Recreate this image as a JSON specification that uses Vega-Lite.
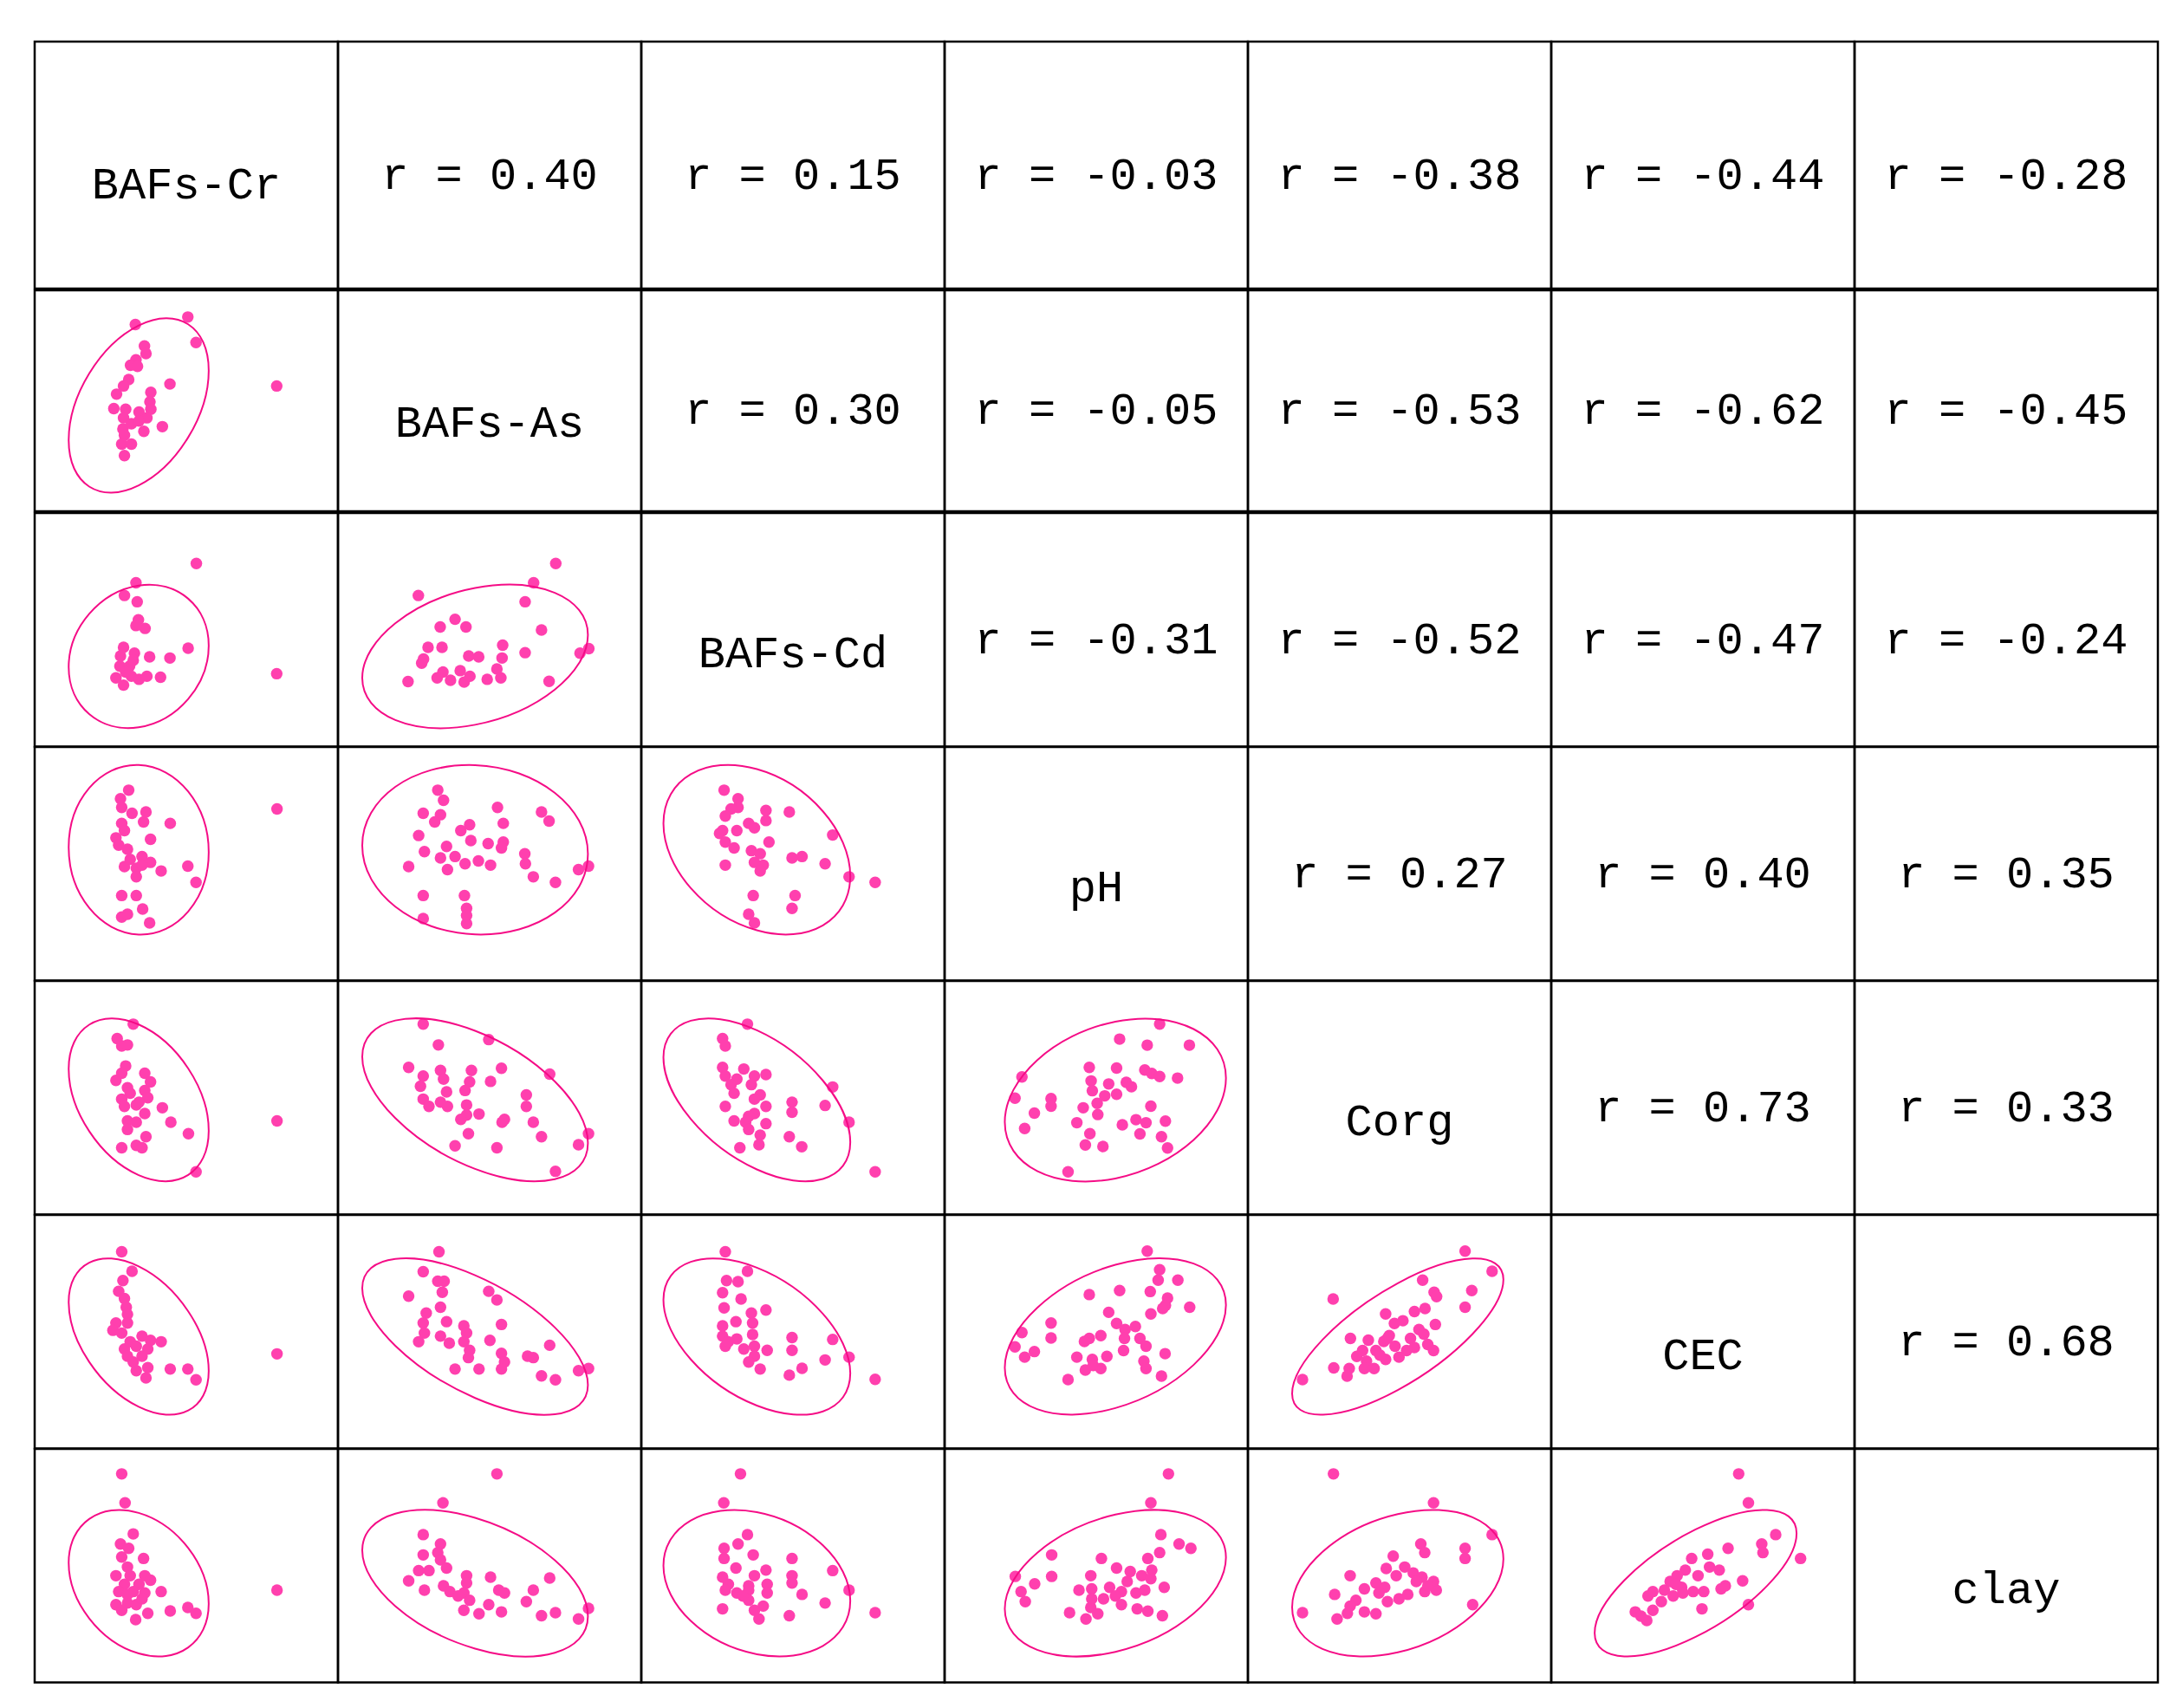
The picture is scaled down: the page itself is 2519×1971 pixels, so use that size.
{
"$schema": "https://vega.github.io/schema/vega-lite/v6.json",
"padding": {"left": 38, "top": 46, "right": 0, "bottom": 0},
"background": "white",
"spacing": -5,
"config": {"view": {"stroke": "black", "strokeWidth": 2.5}, "concat": {"spacing": 0}, "facet": {"spacing": 0}},
"resolve": {"scale": {"shape": "independent"}},
"datasets": {"all": [
{"r":"Cr","c":"Cr","k":"d","label":"BAFs-Cr"},
{"r":"As","c":"As","k":"d","label":"BAFs-As"},
{"r":"Cd","c":"Cd","k":"d","label":"BAFs-Cd"},
{"r":"pH","c":"pH","k":"d","label":"pH"},
{"r":"Corg","c":"Corg","k":"d","label":"Corg"},
{"r":"CEC","c":"CEC","k":"d","label":"CEC"},
{"r":"clay","c":"clay","k":"d","label":"clay"},
{"r":"Cr","c":"As","k":"t","label":"r = 0.40"},
{"r":"Cr","c":"Cd","k":"t","label":"r = 0.15"},
{"r":"Cr","c":"pH","k":"t","label":"r = -0.03"},
{"r":"Cr","c":"Corg","k":"t","label":"r = -0.38"},
{"r":"Cr","c":"CEC","k":"t","label":"r = -0.44"},
{"r":"Cr","c":"clay","k":"t","label":"r = -0.28"},
{"r":"As","c":"Cd","k":"t","label":"r = 0.30"},
{"r":"As","c":"pH","k":"t","label":"r = -0.05"},
{"r":"As","c":"Corg","k":"t","label":"r = -0.53"},
{"r":"As","c":"CEC","k":"t","label":"r = -0.62"},
{"r":"As","c":"clay","k":"t","label":"r = -0.45"},
{"r":"Cd","c":"pH","k":"t","label":"r = -0.31"},
{"r":"Cd","c":"Corg","k":"t","label":"r = -0.52"},
{"r":"Cd","c":"CEC","k":"t","label":"r = -0.47"},
{"r":"Cd","c":"clay","k":"t","label":"r = -0.24"},
{"r":"pH","c":"Corg","k":"t","label":"r = 0.27"},
{"r":"pH","c":"CEC","k":"t","label":"r = 0.40"},
{"r":"pH","c":"clay","k":"t","label":"r = 0.35"},
{"r":"Corg","c":"CEC","k":"t","label":"r = 0.73"},
{"r":"Corg","c":"clay","k":"t","label":"r = 0.33"},
{"r":"CEC","c":"clay","k":"t","label":"r = 0.68"},
{"r":"As","c":"Cr","k":"e","id":"As-Cr","x":34.3,"y":47.9},
{"r":"Cd","c":"Cr","k":"e","id":"Cd-Cr","x":34.3,"y":38.6},
{"r":"Cd","c":"As","k":"e","id":"Cd-As","x":45.2,"y":38.6},
{"r":"pH","c":"Cr","k":"e","id":"pH-Cr","x":34.3,"y":56.0},
{"r":"pH","c":"As","k":"e","id":"pH-As","x":45.2,"y":56.0},
{"r":"pH","c":"Cd","k":"e","id":"pH-Cd","x":38.1,"y":56.0},
{"r":"Corg","c":"Cr","k":"e","id":"Corg-Cr","x":34.3,"y":49.1},
{"r":"Corg","c":"As","k":"e","id":"Corg-As","x":45.2,"y":49.1},
{"r":"Corg","c":"Cd","k":"e","id":"Corg-Cd","x":38.1,"y":49.1},
{"r":"Corg","c":"pH","k":"e","id":"Corg-pH","x":56.3,"y":49.0},
{"r":"CEC","c":"Cr","k":"e","id":"CEC-Cr","x":34.3,"y":47.9},
{"r":"CEC","c":"As","k":"e","id":"CEC-As","x":45.2,"y":47.9},
{"r":"CEC","c":"Cd","k":"e","id":"CEC-Cd","x":38.1,"y":47.9},
{"r":"CEC","c":"pH","k":"e","id":"CEC-pH","x":56.3,"y":48.0},
{"r":"CEC","c":"Corg","k":"e","id":"CEC-Corg","x":49.4,"y":47.9},
{"r":"clay","c":"Cr","k":"e","id":"clay-Cr","x":34.3,"y":42.5},
{"r":"clay","c":"As","k":"e","id":"clay-As","x":45.2,"y":42.5},
{"r":"clay","c":"Cd","k":"e","id":"clay-Cd","x":38.1,"y":42.5},
{"r":"clay","c":"pH","k":"e","id":"clay-pH","x":56.3,"y":42.5},
{"r":"clay","c":"Corg","k":"e","id":"clay-Corg","x":49.4,"y":42.5},
{"r":"clay","c":"CEC","k":"e","id":"clay-CEC","x":47.6,"y":42.5},
{"r":"As","c":"Cr","k":"p","x":33.2,"y":84.5},{"r":"As","c":"Cr","k":"p","x":50.5,"y":87.9},{"r":"As","c":"Cr","k":"p","x":53.2,"y":76.4},{"r":"As","c":"Cr","k":"p","x":36.2,"y":74.8},{"r":"As","c":"Cr","k":"p","x":36.7,"y":71.4},{"r":"As","c":"Cr","k":"p","x":33.4,"y":68.5},{"r":"As","c":"Cr","k":"p","x":31.6,"y":66.1},{"r":"As","c":"Cr","k":"p","x":33.9,"y":65.6},{"r":"As","c":"Cr","k":"p","x":31.0,"y":59.6},{"r":"As","c":"Cr","k":"p","x":29.3,"y":56.7},{"r":"As","c":"Cr","k":"p","x":27.0,"y":53.0},{"r":"As","c":"Cr","k":"p","x":44.6,"y":57.6},{"r":"As","c":"Cr","k":"p","x":38.3,"y":53.8},{"r":"As","c":"Cr","k":"p","x":38.0,"y":49.5},{"r":"As","c":"Cr","k":"p","x":26.1,"y":46.5},{"r":"As","c":"Cr","k":"p","x":30.0,"y":46.2},{"r":"As","c":"Cr","k":"p","x":29.3,"y":42.3},{"r":"As","c":"Cr","k":"p","x":34.4,"y":44.9},{"r":"As","c":"Cr","k":"p","x":38.3,"y":46.2},{"r":"As","c":"Cr","k":"p","x":37.0,"y":42.3},{"r":"As","c":"Cr","k":"p","x":42.1,"y":38.3},{"r":"As","c":"Cr","k":"p","x":36.0,"y":36.2},{"r":"As","c":"Cr","k":"p","x":29.1,"y":37.3},{"r":"As","c":"Cr","k":"p","x":29.6,"y":34.4},{"r":"As","c":"Cr","k":"p","x":28.7,"y":30.4},{"r":"As","c":"Cr","k":"p","x":31.9,"y":30.4},{"r":"As","c":"Cr","k":"p","x":29.6,"y":25.2},{"r":"As","c":"Cr","k":"p","x":79.8,"y":56.7},{"r":"As","c":"Cr","k":"p","x":31.9,"y":39.6},{"r":"As","c":"Cr","k":"p","x":34.4,"y":40.9},
{"r":"Cd","c":"Cr","k":"p","x":53.3,"y":78.4},{"r":"Cd","c":"Cr","k":"p","x":33.4,"y":70.1},{"r":"Cd","c":"Cr","k":"p","x":29.6,"y":64.7},{"r":"Cd","c":"Cr","k":"p","x":33.8,"y":62.0},{"r":"Cd","c":"Cr","k":"p","x":34.2,"y":54.3},{"r":"Cd","c":"Cr","k":"p","x":36.4,"y":50.6},{"r":"Cd","c":"Cr","k":"p","x":33.4,"y":51.8},{"r":"Cd","c":"Cr","k":"p","x":50.6,"y":42.1},{"r":"Cd","c":"Cr","k":"p","x":44.6,"y":37.9},{"r":"Cd","c":"Cr","k":"p","x":37.9,"y":38.4},{"r":"Cd","c":"Cr","k":"p","x":29.3,"y":42.5},{"r":"Cd","c":"Cr","k":"p","x":28.3,"y":38.8},{"r":"Cd","c":"Cr","k":"p","x":32.9,"y":40.0},{"r":"Cd","c":"Cr","k":"p","x":28.1,"y":34.4},{"r":"Cd","c":"Cr","k":"p","x":31.3,"y":34.4},{"r":"Cd","c":"Cr","k":"p","x":26.8,"y":29.4},{"r":"Cd","c":"Cr","k":"p","x":29.3,"y":26.3},{"r":"Cd","c":"Cr","k":"p","x":31.9,"y":30.1},{"r":"Cd","c":"Cr","k":"p","x":34.4,"y":28.8},{"r":"Cd","c":"Cr","k":"p","x":37.0,"y":30.1},{"r":"Cd","c":"Cr","k":"p","x":41.5,"y":29.7},{"r":"Cd","c":"Cr","k":"p","x":79.8,"y":31.2},{"r":"Cd","c":"Cr","k":"p","x":30.0,"y":31.9},{"r":"Cd","c":"Cr","k":"p","x":32.5,"y":36.9},
{"r":"Cd","c":"As","k":"p","x":71.8,"y":78.4},{"r":"Cd","c":"As","k":"p","x":64.5,"y":70.1},{"r":"Cd","c":"As","k":"p","x":26.5,"y":64.7},{"r":"Cd","c":"As","k":"p","x":61.7,"y":62.0},{"r":"Cd","c":"As","k":"p","x":38.6,"y":54.5},{"r":"Cd","c":"As","k":"p","x":42.2,"y":51.2},{"r":"Cd","c":"As","k":"p","x":33.7,"y":51.2},{"r":"Cd","c":"As","k":"p","x":67.1,"y":49.9},{"r":"Cd","c":"As","k":"p","x":29.7,"y":42.5},{"r":"Cd","c":"As","k":"p","x":34.3,"y":42.5},{"r":"Cd","c":"As","k":"p","x":54.3,"y":43.4},{"r":"Cd","c":"As","k":"p","x":28.2,"y":37.5},{"r":"Cd","c":"As","k":"p","x":43.1,"y":38.8},{"r":"Cd","c":"As","k":"p","x":46.4,"y":38.4},{"r":"Cd","c":"As","k":"p","x":54.1,"y":37.9},{"r":"Cd","c":"As","k":"p","x":61.7,"y":40.2},{"r":"Cd","c":"As","k":"p","x":79.8,"y":40.0},{"r":"Cd","c":"As","k":"p","x":82.7,"y":41.9},{"r":"Cd","c":"As","k":"p","x":23.1,"y":27.8},{"r":"Cd","c":"As","k":"p","x":34.6,"y":31.9},{"r":"Cd","c":"As","k":"p","x":32.7,"y":29.4},{"r":"Cd","c":"As","k":"p","x":37.1,"y":28.4},{"r":"Cd","c":"As","k":"p","x":40.3,"y":32.5},{"r":"Cd","c":"As","k":"p","x":41.6,"y":27.6},{"r":"Cd","c":"As","k":"p","x":43.5,"y":30.1},{"r":"Cd","c":"As","k":"p","x":49.2,"y":28.8},{"r":"Cd","c":"As","k":"p","x":52.4,"y":33.2},{"r":"Cd","c":"As","k":"p","x":53.7,"y":29.4},{"r":"Cd","c":"As","k":"p","x":69.6,"y":27.9},{"r":"Cd","c":"As","k":"p","x":27.6,"y":35.7},
{"r":"pH","c":"Cr","k":"p","x":31.0,"y":81.5},{"r":"pH","c":"Cr","k":"p","x":28.3,"y":77.8},{"r":"pH","c":"Cr","k":"p","x":28.7,"y":74.1},{"r":"pH","c":"Cr","k":"p","x":32.1,"y":71.6},{"r":"pH","c":"Cr","k":"p","x":36.7,"y":72.2},{"r":"pH","c":"Cr","k":"p","x":35.9,"y":67.9},{"r":"pH","c":"Cr","k":"p","x":28.7,"y":67.3},{"r":"pH","c":"Cr","k":"p","x":29.6,"y":64.2},{"r":"pH","c":"Cr","k":"p","x":44.7,"y":67.3},{"r":"pH","c":"Cr","k":"p","x":26.8,"y":61.1},{"r":"pH","c":"Cr","k":"p","x":38.2,"y":60.5},{"r":"pH","c":"Cr","k":"p","x":27.7,"y":58.0},{"r":"pH","c":"Cr","k":"p","x":30.6,"y":56.2},{"r":"pH","c":"Cr","k":"p","x":35.4,"y":53.1},{"r":"pH","c":"Cr","k":"p","x":38.2,"y":50.6},{"r":"pH","c":"Cr","k":"p","x":29.6,"y":48.8},{"r":"pH","c":"Cr","k":"p","x":33.5,"y":48.1},{"r":"pH","c":"Cr","k":"p","x":41.7,"y":46.9},{"r":"pH","c":"Cr","k":"p","x":50.5,"y":49.0},{"r":"pH","c":"Cr","k":"p","x":33.5,"y":44.4},{"r":"pH","c":"Cr","k":"p","x":53.2,"y":42.0},{"r":"pH","c":"Cr","k":"p","x":28.7,"y":36.4},{"r":"pH","c":"Cr","k":"p","x":33.5,"y":36.4},{"r":"pH","c":"Cr","k":"p","x":35.6,"y":30.6},{"r":"pH","c":"Cr","k":"p","x":28.7,"y":27.2},{"r":"pH","c":"Cr","k":"p","x":30.6,"y":28.4},{"r":"pH","c":"Cr","k":"p","x":37.9,"y":24.7},{"r":"pH","c":"Cr","k":"p","x":79.9,"y":73.5},{"r":"pH","c":"Cr","k":"p","x":35.4,"y":49.4},{"r":"pH","c":"Cr","k":"p","x":31.5,"y":51.9},
{"r":"pH","c":"As","k":"p","x":32.9,"y":81.5},{"r":"pH","c":"As","k":"p","x":34.8,"y":77.2},{"r":"pH","c":"As","k":"p","x":28.1,"y":71.6},{"r":"pH","c":"As","k":"p","x":33.8,"y":71.0},{"r":"pH","c":"As","k":"p","x":31.9,"y":67.9},{"r":"pH","c":"As","k":"p","x":52.6,"y":74.1},{"r":"pH","c":"As","k":"p","x":67.1,"y":72.2},{"r":"pH","c":"As","k":"p","x":69.6,"y":68.3},{"r":"pH","c":"As","k":"p","x":54.5,"y":67.3},{"r":"pH","c":"As","k":"p","x":43.4,"y":66.7},{"r":"pH","c":"As","k":"p","x":40.5,"y":64.2},{"r":"pH","c":"As","k":"p","x":43.8,"y":59.9},{"r":"pH","c":"As","k":"p","x":26.6,"y":62.1},{"r":"pH","c":"As","k":"p","x":49.5,"y":58.6},{"r":"pH","c":"As","k":"p","x":54.5,"y":59.3},{"r":"pH","c":"As","k":"p","x":53.9,"y":56.8},{"r":"pH","c":"As","k":"p","x":35.8,"y":57.4},{"r":"pH","c":"As","k":"p","x":28.5,"y":55.2},{"r":"pH","c":"As","k":"p","x":33.8,"y":52.5},{"r":"pH","c":"As","k":"p","x":38.6,"y":53.1},{"r":"pH","c":"As","k":"p","x":61.6,"y":54.3},{"r":"pH","c":"As","k":"p","x":23.3,"y":48.8},{"r":"pH","c":"As","k":"p","x":41.9,"y":50.0},{"r":"pH","c":"As","k":"p","x":46.3,"y":51.2},{"r":"pH","c":"As","k":"p","x":50.3,"y":49.4},{"r":"pH","c":"As","k":"p","x":61.8,"y":50.0},{"r":"pH","c":"As","k":"p","x":36.1,"y":47.5},{"r":"pH","c":"As","k":"p","x":79.3,"y":47.5},{"r":"pH","c":"As","k":"p","x":82.6,"y":49.0},{"r":"pH","c":"As","k":"p","x":64.4,"y":44.4},{"r":"pH","c":"As","k":"p","x":71.7,"y":42.0},{"r":"pH","c":"As","k":"p","x":28.1,"y":36.4},{"r":"pH","c":"As","k":"p","x":41.7,"y":36.4},{"r":"pH","c":"As","k":"p","x":42.4,"y":30.9},{"r":"pH","c":"As","k":"p","x":28.1,"y":26.5},{"r":"pH","c":"As","k":"p","x":42.4,"y":24.4},{"r":"pH","c":"As","k":"p","x":42.4,"y":27.8},
{"r":"pH","c":"Cd","k":"p","x":27.3,"y":81.5},{"r":"pH","c":"Cd","k":"p","x":31.9,"y":77.8},{"r":"pH","c":"Cd","k":"p","x":31.9,"y":74.1},{"r":"pH","c":"Cd","k":"p","x":29.6,"y":73.5},{"r":"pH","c":"Cd","k":"p","x":27.7,"y":70.4},{"r":"pH","c":"Cd","k":"p","x":41.1,"y":72.8},{"r":"pH","c":"Cd","k":"p","x":48.8,"y":72.2},{"r":"pH","c":"Cd","k":"p","x":41.1,"y":68.5},{"r":"pH","c":"Cd","k":"p","x":35.4,"y":67.3},{"r":"pH","c":"Cd","k":"p","x":26.8,"y":64.2},{"r":"pH","c":"Cd","k":"p","x":31.5,"y":64.2},{"r":"pH","c":"Cd","k":"p","x":37.3,"y":65.4},{"r":"pH","c":"Cd","k":"p","x":42.1,"y":59.3},{"r":"pH","c":"Cd","k":"p","x":27.7,"y":59.3},{"r":"pH","c":"Cd","k":"p","x":30.6,"y":56.8},{"r":"pH","c":"Cd","k":"p","x":63.1,"y":62.3},{"r":"pH","c":"Cd","k":"p","x":36.3,"y":55.6},{"r":"pH","c":"Cd","k":"p","x":39.2,"y":54.3},{"r":"pH","c":"Cd","k":"p","x":49.7,"y":52.5},{"r":"pH","c":"Cd","k":"p","x":53.0,"y":53.1},{"r":"pH","c":"Cd","k":"p","x":60.6,"y":50.0},{"r":"pH","c":"Cd","k":"p","x":27.7,"y":49.4},{"r":"pH","c":"Cd","k":"p","x":37.3,"y":50.6},{"r":"pH","c":"Cd","k":"p","x":40.2,"y":49.4},{"r":"pH","c":"Cd","k":"p","x":39.2,"y":46.9},{"r":"pH","c":"Cd","k":"p","x":68.5,"y":44.4},{"r":"pH","c":"Cd","k":"p","x":77.1,"y":42.0},{"r":"pH","c":"Cd","k":"p","x":36.9,"y":36.4},{"r":"pH","c":"Cd","k":"p","x":50.7,"y":36.4},{"r":"pH","c":"Cd","k":"p","x":49.7,"y":30.9},{"r":"pH","c":"Cd","k":"p","x":35.4,"y":28.4},{"r":"pH","c":"Cd","k":"p","x":37.3,"y":24.7},{"r":"pH","c":"Cd","k":"p","x":25.8,"y":63.0},
{"r":"Corg","c":"Cr","k":"p","x":32.5,"y":81.5},{"r":"Corg","c":"Cr","k":"p","x":27.2,"y":75.3},{"r":"Corg","c":"Cr","k":"p","x":28.7,"y":72.2},{"r":"Corg","c":"Cr","k":"p","x":30.6,"y":72.6},{"r":"Corg","c":"Cr","k":"p","x":30.0,"y":63.6},{"r":"Corg","c":"Cr","k":"p","x":28.7,"y":60.5},{"r":"Corg","c":"Cr","k":"p","x":26.8,"y":57.4},{"r":"Corg","c":"Cr","k":"p","x":36.3,"y":60.5},{"r":"Corg","c":"Cr","k":"p","x":38.2,"y":56.8},{"r":"Corg","c":"Cr","k":"p","x":30.6,"y":54.3},{"r":"Corg","c":"Cr","k":"p","x":36.3,"y":53.1},{"r":"Corg","c":"Cr","k":"p","x":31.5,"y":51.9},{"r":"Corg","c":"Cr","k":"p","x":37.3,"y":50.0},{"r":"Corg","c":"Cr","k":"p","x":28.7,"y":49.4},{"r":"Corg","c":"Cr","k":"p","x":29.6,"y":46.3},{"r":"Corg","c":"Cr","k":"p","x":33.5,"y":46.9},{"r":"Corg","c":"Cr","k":"p","x":36.3,"y":43.2},{"r":"Corg","c":"Cr","k":"p","x":42.1,"y":45.7},{"r":"Corg","c":"Cr","k":"p","x":30.6,"y":40.1},{"r":"Corg","c":"Cr","k":"p","x":33.5,"y":39.5},{"r":"Corg","c":"Cr","k":"p","x":44.9,"y":39.5},{"r":"Corg","c":"Cr","k":"p","x":30.6,"y":36.4},{"r":"Corg","c":"Cr","k":"p","x":50.7,"y":34.6},{"r":"Corg","c":"Cr","k":"p","x":36.7,"y":33.3},{"r":"Corg","c":"Cr","k":"p","x":28.7,"y":28.6},{"r":"Corg","c":"Cr","k":"p","x":33.5,"y":29.6},{"r":"Corg","c":"Cr","k":"p","x":35.4,"y":28.6},{"r":"Corg","c":"Cr","k":"p","x":79.9,"y":40.1},{"r":"Corg","c":"Cr","k":"p","x":53.2,"y":18.3},{"r":"Corg","c":"Cr","k":"p","x":34.4,"y":48.1},
{"r":"Corg","c":"As","k":"p","x":28.1,"y":81.5},{"r":"Corg","c":"As","k":"p","x":49.7,"y":74.9},{"r":"Corg","c":"As","k":"p","x":33.1,"y":72.6},{"r":"Corg","c":"As","k":"p","x":23.3,"y":63.0},{"r":"Corg","c":"As","k":"p","x":33.8,"y":61.7},{"r":"Corg","c":"As","k":"p","x":53.9,"y":62.6},{"r":"Corg","c":"As","k":"p","x":44.0,"y":61.7},{"r":"Corg","c":"As","k":"p","x":69.8,"y":60.1},{"r":"Corg","c":"As","k":"p","x":28.1,"y":59.3},{"r":"Corg","c":"As","k":"p","x":34.8,"y":58.0},{"r":"Corg","c":"As","k":"p","x":43.4,"y":56.8},{"r":"Corg","c":"As","k":"p","x":50.3,"y":57.0},{"r":"Corg","c":"As","k":"p","x":27.2,"y":54.9},{"r":"Corg","c":"As","k":"p","x":41.9,"y":53.1},{"r":"Corg","c":"As","k":"p","x":35.8,"y":52.5},{"r":"Corg","c":"As","k":"p","x":28.1,"y":49.4},{"r":"Corg","c":"As","k":"p","x":30.0,"y":46.3},{"r":"Corg","c":"As","k":"p","x":36.1,"y":46.3},{"r":"Corg","c":"As","k":"p","x":42.4,"y":46.9},{"r":"Corg","c":"As","k":"p","x":62.1,"y":51.2},{"r":"Corg","c":"As","k":"p","x":62.1,"y":46.3},{"r":"Corg","c":"As","k":"p","x":42.4,"y":42.6},{"r":"Corg","c":"As","k":"p","x":46.5,"y":43.0},{"r":"Corg","c":"As","k":"p","x":40.5,"y":40.7},{"r":"Corg","c":"As","k":"p","x":54.1,"y":39.5},{"r":"Corg","c":"As","k":"p","x":54.9,"y":40.7},{"r":"Corg","c":"As","k":"p","x":64.4,"y":39.5},{"r":"Corg","c":"As","k":"p","x":43.0,"y":34.6},{"r":"Corg","c":"As","k":"p","x":67.1,"y":33.3},{"r":"Corg","c":"As","k":"p","x":38.6,"y":29.4},{"r":"Corg","c":"As","k":"p","x":52.4,"y":28.6},{"r":"Corg","c":"As","k":"p","x":79.3,"y":29.9},{"r":"Corg","c":"As","k":"p","x":82.6,"y":34.6},{"r":"Corg","c":"As","k":"p","x":71.7,"y":18.5},{"r":"Corg","c":"As","k":"p","x":33.8,"y":48.1},
{"r":"Corg","c":"Cd","k":"p","x":35.0,"y":81.5},{"r":"Corg","c":"Cd","k":"p","x":26.8,"y":75.3},{"r":"Corg","c":"Cd","k":"p","x":27.7,"y":72.2},{"r":"Corg","c":"Cd","k":"p","x":26.8,"y":63.0},{"r":"Corg","c":"Cd","k":"p","x":33.8,"y":62.3},{"r":"Corg","c":"Cd","k":"p","x":27.7,"y":59.3},{"r":"Corg","c":"Cd","k":"p","x":37.3,"y":59.3},{"r":"Corg","c":"Cd","k":"p","x":41.1,"y":59.9},{"r":"Corg","c":"Cd","k":"p","x":31.5,"y":58.0},{"r":"Corg","c":"Cd","k":"p","x":29.6,"y":55.6},{"r":"Corg","c":"Cd","k":"p","x":36.3,"y":55.6},{"r":"Corg","c":"Cd","k":"p","x":30.6,"y":51.9},{"r":"Corg","c":"Cd","k":"p","x":39.2,"y":51.2},{"r":"Corg","c":"Cd","k":"p","x":37.3,"y":49.4},{"r":"Corg","c":"Cd","k":"p","x":49.7,"y":48.1},{"r":"Corg","c":"Cd","k":"p","x":63.1,"y":54.6},{"r":"Corg","c":"Cd","k":"p","x":49.7,"y":43.8},{"r":"Corg","c":"Cd","k":"p","x":41.1,"y":46.3},{"r":"Corg","c":"Cd","k":"p","x":60.6,"y":46.7},{"r":"Corg","c":"Cd","k":"p","x":27.7,"y":46.3},{"r":"Corg","c":"Cd","k":"p","x":37.3,"y":43.2},{"r":"Corg","c":"Cd","k":"p","x":30.6,"y":40.1},{"r":"Corg","c":"Cd","k":"p","x":34.4,"y":39.5},{"r":"Corg","c":"Cd","k":"p","x":41.1,"y":38.9},{"r":"Corg","c":"Cd","k":"p","x":35.4,"y":36.4},{"r":"Corg","c":"Cd","k":"p","x":39.2,"y":34.0},{"r":"Corg","c":"Cd","k":"p","x":68.5,"y":39.5},{"r":"Corg","c":"Cd","k":"p","x":48.8,"y":33.3},{"r":"Corg","c":"Cd","k":"p","x":52.9,"y":29.0},{"r":"Corg","c":"Cd","k":"p","x":32.5,"y":28.6},{"r":"Corg","c":"Cd","k":"p","x":38.8,"y":29.9},{"r":"Corg","c":"Cd","k":"p","x":77.1,"y":18.3},{"r":"Corg","c":"Cd","k":"p","x":35.4,"y":42.0},
{"r":"Corg","c":"pH","k":"p","x":70.9,"y":81.5},{"r":"Corg","c":"pH","k":"p","x":57.7,"y":75.1},{"r":"Corg","c":"pH","k":"p","x":66.8,"y":72.5},{"r":"Corg","c":"pH","k":"p","x":80.7,"y":72.5},{"r":"Corg","c":"pH","k":"p","x":25.5,"y":58.9},{"r":"Corg","c":"pH","k":"p","x":47.7,"y":63.0},{"r":"Corg","c":"pH","k":"p","x":56.7,"y":62.7},{"r":"Corg","c":"pH","k":"p","x":66.0,"y":61.9},{"r":"Corg","c":"pH","k":"p","x":68.3,"y":60.4},{"r":"Corg","c":"pH","k":"p","x":70.9,"y":59.1},{"r":"Corg","c":"pH","k":"p","x":76.8,"y":58.4},{"r":"Corg","c":"pH","k":"p","x":48.3,"y":57.2},{"r":"Corg","c":"pH","k":"p","x":48.7,"y":53.0},{"r":"Corg","c":"pH","k":"p","x":54.1,"y":55.9},{"r":"Corg","c":"pH","k":"p","x":59.9,"y":56.6},{"r":"Corg","c":"pH","k":"p","x":61.6,"y":54.7},{"r":"Corg","c":"pH","k":"p","x":56.7,"y":51.5},{"r":"Corg","c":"pH","k":"p","x":52.8,"y":50.8},{"r":"Corg","c":"pH","k":"p","x":23.2,"y":49.8},{"r":"Corg","c":"pH","k":"p","x":35.1,"y":49.6},{"r":"Corg","c":"pH","k":"p","x":35.1,"y":46.4},{"r":"Corg","c":"pH","k":"p","x":29.6,"y":43.4},{"r":"Corg","c":"pH","k":"p","x":45.7,"y":45.7},{"r":"Corg","c":"pH","k":"p","x":50.3,"y":47.6},{"r":"Corg","c":"pH","k":"p","x":50.5,"y":42.8},{"r":"Corg","c":"pH","k":"p","x":68.0,"y":46.4},{"r":"Corg","c":"pH","k":"p","x":43.6,"y":39.3},{"r":"Corg","c":"pH","k":"p","x":58.6,"y":38.4},{"r":"Corg","c":"pH","k":"p","x":63.1,"y":40.6},{"r":"Corg","c":"pH","k":"p","x":66.4,"y":39.3},{"r":"Corg","c":"pH","k":"p","x":72.8,"y":40.0},{"r":"Corg","c":"pH","k":"p","x":26.4,"y":36.8},{"r":"Corg","c":"pH","k":"p","x":47.9,"y":34.6},{"r":"Corg","c":"pH","k":"p","x":64.4,"y":34.5},{"r":"Corg","c":"pH","k":"p","x":71.5,"y":33.3},{"r":"Corg","c":"pH","k":"p","x":73.5,"y":28.5},{"r":"Corg","c":"pH","k":"p","x":46.4,"y":29.8},{"r":"Corg","c":"pH","k":"p","x":52.2,"y":29.1},{"r":"Corg","c":"pH","k":"p","x":40.7,"y":18.3},
{"r":"CEC","c":"Cr","k":"p","x":28.7,"y":84.2},{"r":"CEC","c":"Cr","k":"p","x":32.1,"y":75.9},{"r":"CEC","c":"Cr","k":"p","x":29.1,"y":71.9},{"r":"CEC","c":"Cr","k":"p","x":27.7,"y":67.3},{"r":"CEC","c":"Cr","k":"p","x":29.6,"y":64.2},{"r":"CEC","c":"Cr","k":"p","x":30.2,"y":60.5},{"r":"CEC","c":"Cr","k":"p","x":30.6,"y":57.4},{"r":"CEC","c":"Cr","k":"p","x":26.8,"y":53.7},{"r":"CEC","c":"Cr","k":"p","x":30.6,"y":53.7},{"r":"CEC","c":"Cr","k":"p","x":25.8,"y":50.6},{"r":"CEC","c":"Cr","k":"p","x":28.7,"y":49.4},{"r":"CEC","c":"Cr","k":"p","x":35.4,"y":48.1},{"r":"CEC","c":"Cr","k":"p","x":38.2,"y":46.3},{"r":"CEC","c":"Cr","k":"p","x":41.7,"y":45.7},{"r":"CEC","c":"Cr","k":"p","x":29.6,"y":42.6},{"r":"CEC","c":"Cr","k":"p","x":33.5,"y":43.8},{"r":"CEC","c":"Cr","k":"p","x":37.3,"y":42.6},{"r":"CEC","c":"Cr","k":"p","x":30.6,"y":39.5},{"r":"CEC","c":"Cr","k":"p","x":35.4,"y":39.5},{"r":"CEC","c":"Cr","k":"p","x":33.5,"y":33.3},{"r":"CEC","c":"Cr","k":"p","x":37.3,"y":34.6},{"r":"CEC","c":"Cr","k":"p","x":36.7,"y":30.2},{"r":"CEC","c":"Cr","k":"p","x":44.7,"y":34.0},{"r":"CEC","c":"Cr","k":"p","x":50.5,"y":34.0},{"r":"CEC","c":"Cr","k":"p","x":53.2,"y":29.4},{"r":"CEC","c":"Cr","k":"p","x":79.9,"y":40.5},{"r":"CEC","c":"Cr","k":"p","x":32.5,"y":37.0},{"r":"CEC","c":"Cr","k":"p","x":31.5,"y":45.7},
{"r":"CEC","c":"As","k":"p","x":33.3,"y":84.2},{"r":"CEC","c":"As","k":"p","x":28.1,"y":75.7},{"r":"CEC","c":"As","k":"p","x":32.9,"y":71.6},{"r":"CEC","c":"As","k":"p","x":35.0,"y":71.6},{"r":"CEC","c":"As","k":"p","x":34.4,"y":66.9},{"r":"CEC","c":"As","k":"p","x":23.3,"y":65.2},{"r":"CEC","c":"As","k":"p","x":49.7,"y":67.3},{"r":"CEC","c":"As","k":"p","x":52.4,"y":63.6},{"r":"CEC","c":"As","k":"p","x":33.8,"y":60.5},{"r":"CEC","c":"As","k":"p","x":29.1,"y":58.0},{"r":"CEC","c":"As","k":"p","x":28.1,"y":53.7},{"r":"CEC","c":"As","k":"p","x":35.8,"y":54.3},{"r":"CEC","c":"As","k":"p","x":53.9,"y":53.1},{"r":"CEC","c":"As","k":"p","x":41.5,"y":52.5},{"r":"CEC","c":"As","k":"p","x":28.5,"y":49.4},{"r":"CEC","c":"As","k":"p","x":33.8,"y":48.1},{"r":"CEC","c":"As","k":"p","x":42.4,"y":49.4},{"r":"CEC","c":"As","k":"p","x":50.1,"y":46.3},{"r":"CEC","c":"As","k":"p","x":26.6,"y":45.7},{"r":"CEC","c":"As","k":"p","x":36.7,"y":45.1},{"r":"CEC","c":"As","k":"p","x":41.5,"y":45.7},{"r":"CEC","c":"As","k":"p","x":43.4,"y":42.0},{"r":"CEC","c":"As","k":"p","x":69.8,"y":44.2},{"r":"CEC","c":"As","k":"p","x":53.9,"y":40.7},{"r":"CEC","c":"As","k":"p","x":62.5,"y":39.5},{"r":"CEC","c":"As","k":"p","x":64.4,"y":38.9},{"r":"CEC","c":"As","k":"p","x":54.9,"y":37.0},{"r":"CEC","c":"As","k":"p","x":38.6,"y":34.0},{"r":"CEC","c":"As","k":"p","x":46.5,"y":34.0},{"r":"CEC","c":"As","k":"p","x":53.9,"y":34.0},{"r":"CEC","c":"As","k":"p","x":67.1,"y":31.1},{"r":"CEC","c":"As","k":"p","x":71.7,"y":29.4},{"r":"CEC","c":"As","k":"p","x":79.3,"y":33.3},{"r":"CEC","c":"As","k":"p","x":82.6,"y":34.2},{"r":"CEC","c":"As","k":"p","x":43.0,"y":38.9},
{"r":"CEC","c":"Cd","k":"p","x":27.7,"y":84.2},{"r":"CEC","c":"Cd","k":"p","x":35.0,"y":75.9},{"r":"CEC","c":"Cd","k":"p","x":28.1,"y":71.9},{"r":"CEC","c":"Cd","k":"p","x":31.9,"y":71.4},{"r":"CEC","c":"Cd","k":"p","x":26.8,"y":66.7},{"r":"CEC","c":"Cd","k":"p","x":32.9,"y":64.0},{"r":"CEC","c":"Cd","k":"p","x":27.3,"y":60.2},{"r":"CEC","c":"Cd","k":"p","x":41.1,"y":59.3},{"r":"CEC","c":"Cd","k":"p","x":36.3,"y":58.0},{"r":"CEC","c":"Cd","k":"p","x":31.2,"y":54.3},{"r":"CEC","c":"Cd","k":"p","x":26.8,"y":52.5},{"r":"CEC","c":"Cd","k":"p","x":36.7,"y":53.7},{"r":"CEC","c":"Cd","k":"p","x":26.8,"y":48.1},{"r":"CEC","c":"Cd","k":"p","x":31.5,"y":46.9},{"r":"CEC","c":"Cd","k":"p","x":49.7,"y":47.5},{"r":"CEC","c":"Cd","k":"p","x":63.1,"y":46.7},{"r":"CEC","c":"Cd","k":"p","x":27.7,"y":43.8},{"r":"CEC","c":"Cd","k":"p","x":33.8,"y":42.6},{"r":"CEC","c":"Cd","k":"p","x":37.3,"y":43.8},{"r":"CEC","c":"Cd","k":"p","x":41.5,"y":42.0},{"r":"CEC","c":"Cd","k":"p","x":49.7,"y":42.0},{"r":"CEC","c":"Cd","k":"p","x":37.3,"y":39.5},{"r":"CEC","c":"Cd","k":"p","x":35.4,"y":37.0},{"r":"CEC","c":"Cd","k":"p","x":39.2,"y":34.0},{"r":"CEC","c":"Cd","k":"p","x":60.6,"y":37.9},{"r":"CEC","c":"Cd","k":"p","x":68.5,"y":39.1},{"r":"CEC","c":"Cd","k":"p","x":53.0,"y":34.3},{"r":"CEC","c":"Cd","k":"p","x":48.8,"y":31.4},{"r":"CEC","c":"Cd","k":"p","x":77.1,"y":29.6},{"r":"CEC","c":"Cd","k":"p","x":36.7,"y":48.8},{"r":"CEC","c":"Cd","k":"p","x":28.7,"y":45.7},
{"r":"CEC","c":"pH","k":"p","x":66.8,"y":84.5},{"r":"CEC","c":"pH","k":"p","x":70.9,"y":76.5},{"r":"CEC","c":"pH","k":"p","x":70.4,"y":72.1},{"r":"CEC","c":"pH","k":"p","x":76.9,"y":72.1},{"r":"CEC","c":"pH","k":"p","x":47.7,"y":65.9},{"r":"CEC","c":"pH","k":"p","x":57.7,"y":67.6},{"r":"CEC","c":"pH","k":"p","x":67.8,"y":67.2},{"r":"CEC","c":"pH","k":"p","x":73.5,"y":64.4},{"r":"CEC","c":"pH","k":"p","x":72.8,"y":61.2},{"r":"CEC","c":"pH","k":"p","x":80.8,"y":60.5},{"r":"CEC","c":"pH","k":"p","x":71.9,"y":59.9},{"r":"CEC","c":"pH","k":"p","x":68.0,"y":57.6},{"r":"CEC","c":"pH","k":"p","x":54.1,"y":58.3},{"r":"CEC","c":"pH","k":"p","x":35.1,"y":53.7},{"r":"CEC","c":"pH","k":"p","x":25.5,"y":49.6},{"r":"CEC","c":"pH","k":"p","x":23.2,"y":43.5},{"r":"CEC","c":"pH","k":"p","x":35.1,"y":47.3},{"r":"CEC","c":"pH","k":"p","x":29.6,"y":41.5},{"r":"CEC","c":"pH","k":"p","x":26.4,"y":39.1},{"r":"CEC","c":"pH","k":"p","x":56.7,"y":53.5},{"r":"CEC","c":"pH","k":"p","x":59.5,"y":50.9},{"r":"CEC","c":"pH","k":"p","x":62.9,"y":52.2},{"r":"CEC","c":"pH","k":"p","x":51.5,"y":48.3},{"r":"CEC","c":"pH","k":"p","x":47.7,"y":47.1},{"r":"CEC","c":"pH","k":"p","x":46.1,"y":45.8},{"r":"CEC","c":"pH","k":"p","x":59.3,"y":47.1},{"r":"CEC","c":"pH","k":"p","x":64.4,"y":47.1},{"r":"CEC","c":"pH","k":"p","x":66.4,"y":43.8},{"r":"CEC","c":"pH","k":"p","x":59.0,"y":41.9},{"r":"CEC","c":"pH","k":"p","x":72.7,"y":40.6},{"r":"CEC","c":"pH","k":"p","x":43.6,"y":39.1},{"r":"CEC","c":"pH","k":"p","x":48.7,"y":38.1},{"r":"CEC","c":"pH","k":"p","x":53.5,"y":39.4},{"r":"CEC","c":"pH","k":"p","x":46.4,"y":33.6},{"r":"CEC","c":"pH","k":"p","x":51.5,"y":34.2},{"r":"CEC","c":"pH","k":"p","x":65.7,"y":37.4},{"r":"CEC","c":"pH","k":"p","x":66.4,"y":34.2},{"r":"CEC","c":"pH","k":"p","x":71.5,"y":31.0},{"r":"CEC","c":"pH","k":"p","x":40.7,"y":29.5},{"r":"CEC","c":"pH","k":"p","x":49.0,"y":35.5},
{"r":"CEC","c":"Corg","k":"p","x":71.6,"y":84.5},{"r":"CEC","c":"Corg","k":"p","x":80.5,"y":75.9},{"r":"CEC","c":"Corg","k":"p","x":57.6,"y":72.1},{"r":"CEC","c":"Corg","k":"p","x":61.4,"y":66.9},{"r":"CEC","c":"Corg","k":"p","x":62.2,"y":65.0},{"r":"CEC","c":"Corg","k":"p","x":73.8,"y":67.6},{"r":"CEC","c":"Corg","k":"p","x":71.6,"y":60.5},{"r":"CEC","c":"Corg","k":"p","x":28.1,"y":64.0},{"r":"CEC","c":"Corg","k":"p","x":58.4,"y":59.9},{"r":"CEC","c":"Corg","k":"p","x":54.9,"y":58.6},{"r":"CEC","c":"Corg","k":"p","x":45.4,"y":57.6},{"r":"CEC","c":"Corg","k":"p","x":51.1,"y":54.7},{"r":"CEC","c":"Corg","k":"p","x":48.3,"y":53.5},{"r":"CEC","c":"Corg","k":"p","x":61.8,"y":53.1},{"r":"CEC","c":"Corg","k":"p","x":56.4,"y":50.9},{"r":"CEC","c":"Corg","k":"p","x":58.0,"y":49.0},{"r":"CEC","c":"Corg","k":"p","x":46.6,"y":48.3},{"r":"CEC","c":"Corg","k":"p","x":44.8,"y":45.8},{"r":"CEC","c":"Corg","k":"p","x":39.7,"y":46.4},{"r":"CEC","c":"Corg","k":"p","x":33.8,"y":47.1},{"r":"CEC","c":"Corg","k":"p","x":53.6,"y":47.1},{"r":"CEC","c":"Corg","k":"p","x":54.9,"y":43.2},{"r":"CEC","c":"Corg","k":"p","x":59.3,"y":44.5},{"r":"CEC","c":"Corg","k":"p","x":61.2,"y":41.9},{"r":"CEC","c":"Corg","k":"p","x":48.5,"y":43.8},{"r":"CEC","c":"Corg","k":"p","x":52.3,"y":41.9},{"r":"CEC","c":"Corg","k":"p","x":42.2,"y":41.9},{"r":"CEC","c":"Corg","k":"p","x":37.8,"y":41.9},{"r":"CEC","c":"Corg","k":"p","x":35.9,"y":39.4},{"r":"CEC","c":"Corg","k":"p","x":39.1,"y":37.4},{"r":"CEC","c":"Corg","k":"p","x":45.4,"y":38.1},{"r":"CEC","c":"Corg","k":"p","x":49.8,"y":39.1},{"r":"CEC","c":"Corg","k":"p","x":28.3,"y":34.5},{"r":"CEC","c":"Corg","k":"p","x":33.4,"y":34.2},{"r":"CEC","c":"Corg","k":"p","x":38.4,"y":34.2},{"r":"CEC","c":"Corg","k":"p","x":41.6,"y":34.2},{"r":"CEC","c":"Corg","k":"p","x":32.7,"y":31.0},{"r":"CEC","c":"Corg","k":"p","x":18.0,"y":29.5},{"r":"CEC","c":"Corg","k":"p","x":46.0,"y":47.1},{"r":"CEC","c":"Corg","k":"p","x":43.5,"y":40.0},
{"r":"clay","c":"Cr","k":"p","x":28.7,"y":89.3},{"r":"clay","c":"Cr","k":"p","x":29.8,"y":76.9},{"r":"clay","c":"Cr","k":"p","x":32.5,"y":63.6},{"r":"clay","c":"Cr","k":"p","x":28.3,"y":59.3},{"r":"clay","c":"Cr","k":"p","x":31.0,"y":57.4},{"r":"clay","c":"Cr","k":"p","x":28.7,"y":53.7},{"r":"clay","c":"Cr","k":"p","x":35.9,"y":53.1},{"r":"clay","c":"Cr","k":"p","x":30.6,"y":49.4},{"r":"clay","c":"Cr","k":"p","x":26.8,"y":45.7},{"r":"clay","c":"Cr","k":"p","x":31.5,"y":45.7},{"r":"clay","c":"Cr","k":"p","x":36.3,"y":45.7},{"r":"clay","c":"Cr","k":"p","x":38.2,"y":43.8},{"r":"clay","c":"Cr","k":"p","x":29.6,"y":42.0},{"r":"clay","c":"Cr","k":"p","x":34.4,"y":42.0},{"r":"clay","c":"Cr","k":"p","x":27.7,"y":38.9},{"r":"clay","c":"Cr","k":"p","x":32.5,"y":38.9},{"r":"clay","c":"Cr","k":"p","x":36.3,"y":38.3},{"r":"clay","c":"Cr","k":"p","x":41.7,"y":38.9},{"r":"clay","c":"Cr","k":"p","x":26.8,"y":33.3},{"r":"clay","c":"Cr","k":"p","x":30.6,"y":34.0},{"r":"clay","c":"Cr","k":"p","x":33.5,"y":33.3},{"r":"clay","c":"Cr","k":"p","x":28.7,"y":30.9},{"r":"clay","c":"Cr","k":"p","x":37.3,"y":29.6},{"r":"clay","c":"Cr","k":"p","x":33.3,"y":26.9},{"r":"clay","c":"Cr","k":"p","x":44.7,"y":30.6},{"r":"clay","c":"Cr","k":"p","x":50.5,"y":32.1},{"r":"clay","c":"Cr","k":"p","x":53.2,"y":29.6},{"r":"clay","c":"Cr","k":"p","x":79.9,"y":39.5},{"r":"clay","c":"Cr","k":"p","x":30.6,"y":37.7},{"r":"clay","c":"Cr","k":"p","x":35.4,"y":35.8},
{"r":"clay","c":"As","k":"p","x":52.4,"y":89.3},{"r":"clay","c":"As","k":"p","x":34.6,"y":76.9},{"r":"clay","c":"As","k":"p","x":28.1,"y":63.3},{"r":"clay","c":"As","k":"p","x":33.8,"y":59.3},{"r":"clay","c":"As","k":"p","x":32.9,"y":55.6},{"r":"clay","c":"As","k":"p","x":28.1,"y":54.6},{"r":"clay","c":"As","k":"p","x":33.8,"y":52.5},{"r":"clay","c":"As","k":"p","x":35.8,"y":49.0},{"r":"clay","c":"As","k":"p","x":26.6,"y":47.9},{"r":"clay","c":"As","k":"p","x":30.0,"y":47.9},{"r":"clay","c":"As","k":"p","x":42.4,"y":45.7},{"r":"clay","c":"As","k":"p","x":50.3,"y":45.1},{"r":"clay","c":"As","k":"p","x":69.8,"y":44.7},{"r":"clay","c":"As","k":"p","x":23.3,"y":43.5},{"r":"clay","c":"As","k":"p","x":42.4,"y":42.6},{"r":"clay","c":"As","k":"p","x":28.5,"y":39.5},{"r":"clay","c":"As","k":"p","x":34.8,"y":41.4},{"r":"clay","c":"As","k":"p","x":36.9,"y":38.9},{"r":"clay","c":"As","k":"p","x":41.5,"y":38.3},{"r":"clay","c":"As","k":"p","x":53.0,"y":39.5},{"r":"clay","c":"As","k":"p","x":54.9,"y":38.3},{"r":"clay","c":"As","k":"p","x":64.4,"y":39.5},{"r":"clay","c":"As","k":"p","x":43.4,"y":35.2},{"r":"clay","c":"As","k":"p","x":62.1,"y":34.6},{"r":"clay","c":"As","k":"p","x":49.7,"y":33.3},{"r":"clay","c":"As","k":"p","x":41.5,"y":30.9},{"r":"clay","c":"As","k":"p","x":53.9,"y":30.2},{"r":"clay","c":"As","k":"p","x":46.5,"y":29.4},{"r":"clay","c":"As","k":"p","x":67.1,"y":28.6},{"r":"clay","c":"As","k":"p","x":71.7,"y":29.9},{"r":"clay","c":"As","k":"p","x":79.3,"y":27.2},{"r":"clay","c":"As","k":"p","x":82.6,"y":31.7},{"r":"clay","c":"As","k":"p","x":39.6,"y":37.0},
{"r":"clay","c":"Cd","k":"p","x":32.7,"y":89.3},{"r":"clay","c":"Cd","k":"p","x":27.2,"y":76.9},{"r":"clay","c":"Cd","k":"p","x":35.0,"y":63.3},{"r":"clay","c":"Cd","k":"p","x":31.9,"y":59.3},{"r":"clay","c":"Cd","k":"p","x":27.3,"y":57.4},{"r":"clay","c":"Cd","k":"p","x":27.3,"y":53.1},{"r":"clay","c":"Cd","k":"p","x":36.9,"y":54.6},{"r":"clay","c":"Cd","k":"p","x":49.7,"y":53.1},{"r":"clay","c":"Cd","k":"p","x":31.2,"y":49.0},{"r":"clay","c":"Cd","k":"p","x":41.1,"y":48.1},{"r":"clay","c":"Cd","k":"p","x":37.3,"y":45.7},{"r":"clay","c":"Cd","k":"p","x":26.8,"y":45.1},{"r":"clay","c":"Cd","k":"p","x":49.7,"y":45.7},{"r":"clay","c":"Cd","k":"p","x":63.1,"y":47.9},{"r":"clay","c":"Cd","k":"p","x":28.7,"y":42.0},{"r":"clay","c":"Cd","k":"p","x":35.4,"y":41.4},{"r":"clay","c":"Cd","k":"p","x":41.5,"y":42.0},{"r":"clay","c":"Cd","k":"p","x":49.7,"y":42.6},{"r":"clay","c":"Cd","k":"p","x":27.7,"y":39.5},{"r":"clay","c":"Cd","k":"p","x":31.5,"y":38.3},{"r":"clay","c":"Cd","k":"p","x":35.4,"y":39.5},{"r":"clay","c":"Cd","k":"p","x":41.5,"y":38.3},{"r":"clay","c":"Cd","k":"p","x":53.0,"y":37.7},{"r":"clay","c":"Cd","k":"p","x":35.4,"y":35.2},{"r":"clay","c":"Cd","k":"p","x":40.2,"y":32.7},{"r":"clay","c":"Cd","k":"p","x":26.8,"y":31.5},{"r":"clay","c":"Cd","k":"p","x":37.3,"y":30.9},{"r":"clay","c":"Cd","k":"p","x":60.6,"y":34.0},{"r":"clay","c":"Cd","k":"p","x":68.5,"y":39.5},{"r":"clay","c":"Cd","k":"p","x":38.8,"y":27.2},{"r":"clay","c":"Cd","k":"p","x":48.8,"y":28.6},{"r":"clay","c":"Cd","k":"p","x":77.1,"y":29.9},{"r":"clay","c":"Cd","k":"p","x":33.5,"y":37.0},
{"r":"clay","c":"pH","k":"p","x":73.8,"y":89.3},{"r":"clay","c":"pH","k":"p","x":68.0,"y":76.9},{"r":"clay","c":"pH","k":"p","x":71.3,"y":63.3},{"r":"clay","c":"pH","k":"p","x":77.3,"y":59.3},{"r":"clay","c":"pH","k":"p","x":81.2,"y":57.4},{"r":"clay","c":"pH","k":"p","x":35.3,"y":54.6},{"r":"clay","c":"pH","k":"p","x":51.7,"y":53.1},{"r":"clay","c":"pH","k":"p","x":70.9,"y":55.6},{"r":"clay","c":"pH","k":"p","x":67.0,"y":53.1},{"r":"clay","c":"pH","k":"p","x":56.7,"y":49.0},{"r":"clay","c":"pH","k":"p","x":23.3,"y":45.4},{"r":"clay","c":"pH","k":"p","x":35.3,"y":45.4},{"r":"clay","c":"pH","k":"p","x":29.7,"y":42.2},{"r":"clay","c":"pH","k":"p","x":61.2,"y":47.5},{"r":"clay","c":"pH","k":"p","x":68.3,"y":48.1},{"r":"clay","c":"pH","k":"p","x":65.0,"y":45.7},{"r":"clay","c":"pH","k":"p","x":60.2,"y":43.2},{"r":"clay","c":"pH","k":"p","x":48.2,"y":45.7},{"r":"clay","c":"pH","k":"p","x":68.0,"y":44.4},{"r":"clay","c":"pH","k":"p","x":72.4,"y":40.7},{"r":"clay","c":"pH","k":"p","x":25.2,"y":38.9},{"r":"clay","c":"pH","k":"p","x":26.6,"y":34.6},{"r":"clay","c":"pH","k":"p","x":44.3,"y":39.5},{"r":"clay","c":"pH","k":"p","x":48.5,"y":40.1},{"r":"clay","c":"pH","k":"p","x":54.4,"y":40.7},{"r":"clay","c":"pH","k":"p","x":58.3,"y":38.9},{"r":"clay","c":"pH","k":"p","x":52.4,"y":35.8},{"r":"clay","c":"pH","k":"p","x":63.1,"y":38.3},{"r":"clay","c":"pH","k":"p","x":66.0,"y":39.5},{"r":"clay","c":"pH","k":"p","x":58.3,"y":33.3},{"r":"clay","c":"pH","k":"p","x":48.2,"y":32.1},{"r":"clay","c":"pH","k":"p","x":41.2,"y":29.9},{"r":"clay","c":"pH","k":"p","x":46.6,"y":27.2},{"r":"clay","c":"pH","k":"p","x":50.5,"y":29.4},{"r":"clay","c":"pH","k":"p","x":63.5,"y":31.5},{"r":"clay","c":"pH","k":"p","x":67.0,"y":30.5},{"r":"clay","c":"pH","k":"p","x":71.8,"y":28.6},{"r":"clay","c":"pH","k":"p","x":56.3,"y":37.0},{"r":"clay","c":"pH","k":"p","x":48.5,"y":35.8},
{"r":"clay","c":"Corg","k":"p","x":28.2,"y":89.3},{"r":"clay","c":"Corg","k":"p","x":61.2,"y":76.9},{"r":"clay","c":"Corg","k":"p","x":80.5,"y":63.3},{"r":"clay","c":"Corg","k":"p","x":57.0,"y":59.3},{"r":"clay","c":"Corg","k":"p","x":58.3,"y":55.6},{"r":"clay","c":"Corg","k":"p","x":71.6,"y":57.4},{"r":"clay","c":"Corg","k":"p","x":71.6,"y":53.1},{"r":"clay","c":"Corg","k":"p","x":47.9,"y":54.1},{"r":"clay","c":"Corg","k":"p","x":33.7,"y":45.7},{"r":"clay","c":"Corg","k":"p","x":45.6,"y":48.8},{"r":"clay","c":"Corg","k":"p","x":51.7,"y":49.4},{"r":"clay","c":"Corg","k":"p","x":48.9,"y":45.7},{"r":"clay","c":"Corg","k":"p","x":54.5,"y":46.9},{"r":"clay","c":"Corg","k":"p","x":57.4,"y":45.1},{"r":"clay","c":"Corg","k":"p","x":61.2,"y":43.2},{"r":"clay","c":"Corg","k":"p","x":62.1,"y":39.5},{"r":"clay","c":"Corg","k":"p","x":58.3,"y":38.9},{"r":"clay","c":"Corg","k":"p","x":42.2,"y":42.6},{"r":"clay","c":"Corg","k":"p","x":45.1,"y":40.7},{"r":"clay","c":"Corg","k":"p","x":38.4,"y":40.1},{"r":"clay","c":"Corg","k":"p","x":43.2,"y":38.3},{"r":"clay","c":"Corg","k":"p","x":28.6,"y":37.7},{"r":"clay","c":"Corg","k":"p","x":35.6,"y":35.2},{"r":"clay","c":"Corg","k":"p","x":46.0,"y":34.6},{"r":"clay","c":"Corg","k":"p","x":49.8,"y":35.8},{"r":"clay","c":"Corg","k":"p","x":52.7,"y":37.7},{"r":"clay","c":"Corg","k":"p","x":33.7,"y":32.7},{"r":"clay","c":"Corg","k":"p","x":32.8,"y":29.6},{"r":"clay","c":"Corg","k":"p","x":38.4,"y":30.2},{"r":"clay","c":"Corg","k":"p","x":42.2,"y":29.4},{"r":"clay","c":"Corg","k":"p","x":29.4,"y":27.2},{"r":"clay","c":"Corg","k":"p","x":18.0,"y":29.9},{"r":"clay","c":"Corg","k":"p","x":74.1,"y":33.3},{"r":"clay","c":"Corg","k":"p","x":55.5,"y":43.2},{"r":"clay","c":"Corg","k":"p","x":59.3,"y":41.4},
{"r":"clay","c":"CEC","k":"p","x":61.8,"y":89.3},{"r":"clay","c":"CEC","k":"p","x":65.0,"y":76.9},{"r":"clay","c":"CEC","k":"p","x":74.0,"y":63.3},{"r":"clay","c":"CEC","k":"p","x":69.4,"y":59.3},{"r":"clay","c":"CEC","k":"p","x":69.8,"y":55.6},{"r":"clay","c":"CEC","k":"p","x":58.3,"y":57.4},{"r":"clay","c":"CEC","k":"p","x":51.6,"y":54.9},{"r":"clay","c":"CEC","k":"p","x":46.3,"y":53.1},{"r":"clay","c":"CEC","k":"p","x":82.2,"y":53.1},{"r":"clay","c":"CEC","k":"p","x":52.2,"y":49.4},{"r":"clay","c":"CEC","k":"p","x":55.4,"y":48.1},{"r":"clay","c":"CEC","k":"p","x":44.2,"y":48.1},{"r":"clay","c":"CEC","k":"p","x":48.4,"y":45.7},{"r":"clay","c":"CEC","k":"p","x":41.5,"y":45.7},{"r":"clay","c":"CEC","k":"p","x":39.2,"y":43.2},{"r":"clay","c":"CEC","k":"p","x":63.1,"y":43.5},{"r":"clay","c":"CEC","k":"p","x":57.4,"y":41.4},{"r":"clay","c":"CEC","k":"p","x":56.0,"y":40.1},{"r":"clay","c":"CEC","k":"p","x":43.0,"y":40.7},{"r":"clay","c":"CEC","k":"p","x":37.3,"y":39.5},{"r":"clay","c":"CEC","k":"p","x":33.5,"y":38.9},{"r":"clay","c":"CEC","k":"p","x":46.8,"y":38.9},{"r":"clay","c":"CEC","k":"p","x":50.3,"y":38.9},{"r":"clay","c":"CEC","k":"p","x":31.9,"y":37.0},{"r":"clay","c":"CEC","k":"p","x":40.2,"y":37.0},{"r":"clay","c":"CEC","k":"p","x":36.3,"y":34.6},{"r":"clay","c":"CEC","k":"p","x":43.4,"y":38.3},{"r":"clay","c":"CEC","k":"p","x":65.0,"y":33.3},{"r":"clay","c":"CEC","k":"p","x":49.7,"y":31.5},{"r":"clay","c":"CEC","k":"p","x":27.7,"y":30.2},{"r":"clay","c":"CEC","k":"p","x":29.6,"y":28.4},{"r":"clay","c":"CEC","k":"p","x":31.5,"y":26.5},{"r":"clay","c":"CEC","k":"p","x":33.5,"y":30.9},{"r":"clay","c":"CEC","k":"p","x":41.1,"y":42.0}
]},
"vconcat": [
{
 "data": {"name": "all"},
 "transform": [{"filter": "datum.r === 'Cr'"}],
 "spacing": 0,
 "bounds": "flush",
 "facet": {"column": {"field": "c", "type": "nominal", "sort": ["Cr","As","Cd","pH","Corg","CEC","clay"], "header": null}},
 "spec": {
  "width": 350, "height": 285,
  "layer": [
   {"transform": [{"filter": "datum.k === 'd'"}], "mark": {"type": "text", "font": "Liberation Mono", "fontSize": 52, "color": "black", "align": "center", "baseline": "middle"},
    "encoding": {"x": {"datum": 50, "type": "quantitative", "scale": {"domain": [0,100], "nice": false}, "axis": null}, "y": {"datum": 42, "type": "quantitative", "scale": {"domain": [0,100], "nice": false}, "axis": null}, "text": {"field": "label", "type": "nominal"}}},
   {"transform": [{"filter": "datum.k === 't'"}], "mark": {"type": "text", "font": "Liberation Mono", "fontSize": 52, "color": "black", "align": "center", "baseline": "middle"},
    "encoding": {"x": {"datum": 50, "type": "quantitative", "scale": {"domain": [0,100], "nice": false}, "axis": null}, "y": {"datum": 46, "type": "quantitative", "scale": {"domain": [0,100], "nice": false}, "axis": null}, "text": {"field": "label", "type": "nominal"}}}
  ]
 }
},
{
 "data": {"name": "all"},
 "transform": [{"filter": "datum.r === 'As'"}],
 "spacing": 0,
 "bounds": "flush",
 "facet": {"column": {"field": "c", "type": "nominal", "sort": ["Cr","As","Cd","pH","Corg","CEC","clay"], "header": null}},
 "spec": {
  "width": 350, "height": 255,
  "layer": [
   {"transform": [{"filter": "datum.k === 'p'"}], "mark": {"type": "point", "filled": true, "size": 180, "color": "#FF40AE", "opacity": 1},
    "encoding": {"x": {"field": "x", "type": "quantitative", "scale": {"domain": [0,100], "nice": false}, "axis": null}, "y": {"field": "y", "type": "quantitative", "scale": {"domain": [0,100], "nice": false}, "axis": null}}},
   {"transform": [{"filter": "datum.k === 'e'"}], "mark": {"type": "point", "filled": false, "size": 4, "color": "#F50C86", "strokeWidth": 2, "opacity": 1},
    "encoding": {"x": {"field": "x", "type": "quantitative", "scale": {"domain": [0,100], "nice": false}, "axis": null}, "y": {"field": "y", "type": "quantitative", "scale": {"domain": [0,100], "nice": false}, "axis": null},
     "shape": {"field": "id", "type": "nominal", "legend": null, "scale": {"domain": ["As-Cr"], "range": ["M80.8 -40.2C80.8 10.7 44.6 70 0 92.2C-44.6 114.4 -80.8 91.1 -80.8 40.2C-80.8 -10.7 -44.6 -70 0 -92.2C44.6 -114.4 80.8 -91.1 80.8 -40.2Z"]}}}},
   {"transform": [{"filter": "datum.k === 'd'"}], "mark": {"type": "text", "font": "Liberation Mono", "fontSize": 52, "color": "black", "align": "center", "baseline": "middle"},
    "encoding": {"x": {"datum": 50, "type": "quantitative", "scale": {"domain": [0,100], "nice": false}, "axis": null}, "y": {"datum": 40, "type": "quantitative", "scale": {"domain": [0,100], "nice": false}, "axis": null}, "text": {"field": "label", "type": "nominal"}}},
   {"transform": [{"filter": "datum.k === 't'"}], "mark": {"type": "text", "font": "Liberation Mono", "fontSize": 52, "color": "black", "align": "center", "baseline": "middle"},
    "encoding": {"x": {"datum": 50, "type": "quantitative", "scale": {"domain": [0,100], "nice": false}, "axis": null}, "y": {"datum": 46, "type": "quantitative", "scale": {"domain": [0,100], "nice": false}, "axis": null}, "text": {"field": "label", "type": "nominal"}}}
  ]
 }
},
{
 "data": {"name": "all"},
 "transform": [{"filter": "datum.r !== 'Cr' && datum.r !== 'As'"}],
 "spacing": 0,
 "bounds": "flush",
 "facet": {
  "row": {"field": "r", "type": "nominal", "sort": ["Cd","pH","Corg","CEC","clay"], "header": null},
  "column": {"field": "c", "type": "nominal", "sort": ["Cr","As","Cd","pH","Corg","CEC","clay"], "header": null}
 },
 "spec": {
  "width": 350, "height": 269.5,
  "layer": [
   {"transform": [{"filter": "datum.k === 'p'"}], "mark": {"type": "point", "filled": true, "size": 180, "color": "#FF40AE", "opacity": 1},
    "encoding": {"x": {"field": "x", "type": "quantitative", "scale": {"domain": [0,100], "nice": false}, "axis": null}, "y": {"field": "y", "type": "quantitative", "scale": {"domain": [0,100], "nice": false}, "axis": null}}},
   {"transform": [{"filter": "datum.k === 'e'"}], "mark": {"type": "point", "filled": false, "size": 4, "color": "#F50C86", "strokeWidth": 2, "opacity": 1},
    "encoding": {"x": {"field": "x", "type": "quantitative", "scale": {"domain": [0,100], "nice": false}, "axis": null}, "y": {"field": "y", "type": "quantitative", "scale": {"domain": [0,100], "nice": false}, "axis": null},
     "shape": {"field": "id", "type": "nominal", "legend": null, "scale": {
      "domain": ["Cd-Cr","Cd-As","pH-Cr","pH-As","pH-Cd","Corg-Cr","Corg-As","Corg-Cd","Corg-pH","CEC-Cr","CEC-As","CEC-Cd","CEC-pH","CEC-Corg","clay-Cr","clay-As","clay-Cd","clay-pH","clay-Corg","clay-CEC"],
      "range": [
       "M80.8 -12.4C80.8 32.8 44.6 75 0 81.8C-44.6 88.6 -80.8 57.6 -80.8 12.4C-80.8 -32.8 -44.6 -75 0 -81.8C44.6 -88.6 80.8 -57.6 80.8 -12.4Z",
       "M130.2 -24.8C130.2 18.8 71.9 65.2 0 78.9C-71.9 92.6 -130.2 68.4 -130.2 24.8C-130.2 -18.8 -71.9 -65.2 0 -78.9C71.9 -92.6 130.2 -68.4 130.2 -24.8Z",
       "M80.8 2.9C80.8 56.9 44.6 99.4 0 97.8C-44.6 96.2 -80.8 51.1 -80.8 -2.9C-80.8 -56.9 -44.6 -99.4 0 -97.8C44.6 -96.2 80.8 -51.1 80.8 2.9Z",
       "M130.2 4.9C130.2 58.9 71.9 100.4 0 97.7C-71.9 95 -130.2 49.1 -130.2 -4.9C-130.2 -58.9 -71.9 -100.4 0 -97.7C71.9 -95 130.2 -49.1 130.2 4.9Z",
       "M107.8 30.3C107.8 81.7 59.5 109.7 0 93C-59.5 76.3 -107.8 21.1 -107.8 -30.3C-107.8 -81.7 -59.5 -109.7 0 -93C59.5 -76.3 107.8 -21.1 107.8 30.3Z",
       "M80.8 35.7C80.8 83.7 44.6 106.6 0 86.9C-44.6 67.2 -80.8 12.3 -80.8 -35.7C-80.8 -83.7 -44.6 -106.6 0 -86.9C44.6 -67.2 80.8 -12.3 80.8 35.7Z",
       "M130.2 49.8C130.2 93.8 71.9 107.2 0 79.7C-71.9 52.2 -130.2 -5.8 -130.2 -49.8C-130.2 -93.8 -71.9 -107.2 0 -79.7C71.9 -52.2 130.2 5.8 130.2 49.8Z",
       "M107.8 48.9C107.8 93.2 59.5 107.3 0 80.3C-59.5 53.3 -107.8 -4.6 -107.8 -48.9C-107.8 -93.2 -59.5 -107.3 0 -80.3C59.5 -53.3 107.8 4.6 107.8 48.9Z",
       "M127.6 -25.4C127.6 24.6 70.5 76.5 0 90.5C-70.5 104.5 -127.6 75.4 -127.6 25.4C-127.6 -24.6 -70.5 -76.5 0 -90.5C70.5 -104.5 127.6 -75.4 127.6 -25.4Z",
       "M80.8 39.7C80.8 84.4 44.6 102.9 0 81C-44.6 59.1 -80.8 5 -80.8 -39.7C-80.8 -84.4 -44.6 -102.9 0 -81C44.6 -59.1 80.8 -5 80.8 39.7Z",
       "M130.2 55.9C130.2 95 71.9 101.7 0 70.8C-71.9 39.9 -130.2 -16.8 -130.2 -55.9C-130.2 -95 -71.9 -101.7 0 -70.8C71.9 -39.9 130.2 16.8 130.2 55.9Z",
       "M107.8 42.4C107.8 86.4 59.5 103 0 79.6C-59.5 56.2 -107.8 1.6 -107.8 -42.4C-107.8 -86.4 -59.5 -103 0 -79.6C59.5 -56.2 107.8 -1.6 107.8 42.4Z",
       "M127.6 -36.1C127.6 9.6 70.5 62.8 0 82.7C-70.5 102.6 -127.6 81.8 -127.6 36.1C-127.6 -9.6 -70.5 -62.8 0 -82.7C70.5 -102.6 127.6 -81.8 127.6 -36.1Z",
       "M121.9 -65.8C121.9 -31.8 67.3 25.3 0 61.6C-67.3 97.9 -121.9 99.8 -121.9 65.8C-121.9 31.8 -67.3 -25.3 0 -61.6C67.3 -97.9 121.9 -99.8 121.9 -65.8Z",
       "M80.8 23.7C80.8 68.5 44.6 94.2 0 81.1C-44.6 68 -80.8 21.1 -80.8 -23.7C-80.8 -68.5 -44.6 -94.2 0 -81.1C44.6 -68 80.8 -21.1 80.8 23.7Z",
       "M130.2 38C130.2 79.7 71.9 96.5 0 75.5C-71.9 54.5 -130.2 3.7 -130.2 -38C-130.2 -79.7 -71.9 -96.5 0 -75.5C71.9 -54.5 130.2 -3.7 130.2 38Z",
       "M107.8 20.3C107.8 65.6 59.5 93.2 0 82C-59.5 70.8 -107.8 25 -107.8 -20.3C-107.8 -65.6 -59.5 -93.2 0 -82C59.5 -70.8 107.8 -25 107.8 20.3Z",
       "M127.6 -29.6C127.6 14.1 70.5 62.9 0 79.2C-70.5 95.5 -127.6 73.3 -127.6 29.6C-127.6 -14.1 -70.5 -62.9 0 -79.2C70.5 -95.5 127.6 -73.3 127.6 -29.6Z",
       "M121.9 -27.9C121.9 16.2 67.3 64.4 0 79.8C-67.3 95.2 -121.9 72 -121.9 27.9C-121.9 -16.2 -67.3 -64.4 0 -79.8C67.3 -95.2 121.9 -72 121.9 -27.9Z",
       "M116.5 -57.5C116.5 -23.3 64.3 30.2 0 62C-64.3 93.8 -116.5 91.7 -116.5 57.5C-116.5 23.3 -64.3 -30.2 0 -62C64.3 -93.8 116.5 -91.7 116.5 -57.5Z"
      ]}}}},
   {"transform": [{"filter": "datum.k === 'd'"}], "mark": {"type": "text", "font": "Liberation Mono", "fontSize": 52, "color": "black", "align": "center", "baseline": "middle"},
    "encoding": {"x": {"datum": 50, "type": "quantitative", "scale": {"domain": [0,100], "nice": false}, "axis": null}, "y": {"datum": 40, "type": "quantitative", "scale": {"domain": [0,100], "nice": false}, "axis": null}, "text": {"field": "label", "type": "nominal"}}},
   {"transform": [{"filter": "datum.k === 't'"}], "mark": {"type": "text", "font": "Liberation Mono", "fontSize": 52, "color": "black", "align": "center", "baseline": "middle"},
    "encoding": {"x": {"datum": 50, "type": "quantitative", "scale": {"domain": [0,100], "nice": false}, "axis": null}, "y": {"datum": 46, "type": "quantitative", "scale": {"domain": [0,100], "nice": false}, "axis": null}, "text": {"field": "label", "type": "nominal"}}}
  ]
 }
}
]
}
